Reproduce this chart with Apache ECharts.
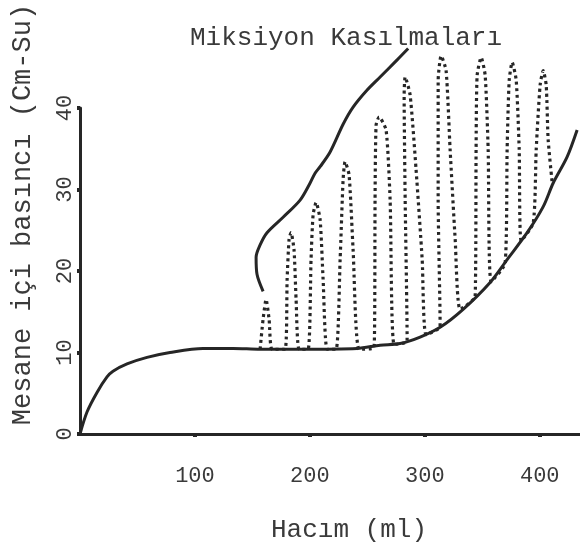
<!DOCTYPE html>
<html>
<head>
<meta charset="utf-8">
<script src="https://cdn.jsdelivr.net/npm/echarts@6/dist/echarts.min.js"></script>
<style>
html,body{margin:0;padding:0;background:#fff;}
#chart{width:580px;height:548px;}
</style>
</head>
<body>
<div id="chart"></div>
<script>
// Volume (ml) and pressure (cm H2O) values
const titleText = 'Miksiyon Kasılmaları';
const xName = 'Hacım (ml)';
const yName = 'Mesane içi basıncı (Cm-Su)';
const xTickLabels = [100, 200, 300, 400];
const yTickLabels = [0, 10, 20, 30, 40];

// filling (baseline) pressure curve
const fillingCurve = [
  [0,0],[6.1,2.7],[14.8,5.1],[23.5,7.0],[28.7,7.7],[40.9,8.6],[58.3,9.4],
  [78.3,10.0],[107,10.5],[133.2,10.5],[156.7,10.4],[191.5,10.4],[241.1,10.5],
  [261.1,10.9],[278.5,11.1],[295.9,11.9],[313.3,13.1],[333.3,15.3],[356.8,18.6],
  [371.6,21.4],[389,24.7],[403,27.9],[411.7,30.8],[423.8,34.0],[432.5,37.3]
];

// upper envelope of the contraction peaks
const envelopeCurve = [
  [159.3,17.5],[154.0,19.6],[153.2,21.7],[156.7,23.2],[162.7,24.7],[176.7,26.6],
  [191.5,28.7],[200.2,30.8],[204.5,32.0],[208.9,32.8],[217.6,34.6],[228.9,38.0],
  [237.6,40.1],[249.8,42.2],[261.1,43.8],[275.9,45.9],[285.5,47.3]
];

// dotted trace of the micturition contractions
const contractionTrace = [
  [156.7,10.4],[159.3,14.1],[161.9,16.5],[164.5,14.1],[167.1,10.4],
  [178.4,10.4],[180.2,19.0],[181.9,23.9],[183.6,24.7],[186.2,22.6],[188.0,16.5],[190.6,10.4],
  [198.4,10.4],[201.0,21.4],[202.8,26.9],[205.4,28.4],[208.9,26.3],[211.5,19.0],[215.0,10.4],
  [222.8,10.4],[226.3,21.4],[228.9,31.2],[230.6,33.4],[234.1,31.8],[237.6,22.6],[242.8,10.4],
  [255.9,10.6],[256.7,28.7],[257.6,37.9],[260.2,38.9],[266.3,37.3],[269.8,28.7],[273.3,11.0],
  [284.6,11.4],[282.9,28.7],[282.0,41.6],[282.9,43.8],[287.2,41.6],[292.4,32.4],[297.7,21.4],[301.1,12.2],
  [313.3,13.2],[311.6,28.7],[311.6,43.4],[314.2,46.4],[318.5,44.6],[322.0,34.9],[326.4,23.9],[330.7,15.3],
  [343.8,16.9],[344.6,34.9],[345.5,44.0],[349.0,46.2],[352.5,44.0],[355.1,34.9],[357.7,18.7],
  [369.9,21.0],[371.6,34.9],[373.4,43.4],[376.0,45.6],[379.5,43.4],[382.1,34.9],[383.8,23.7],
  [394.3,25.9],[396.9,34.9],[400.3,42.8],[403.0,44.6],[405.6,42.8],[407.3,36.1],[410.8,30.8]
];

const ink = '#262626';
const textInk = '#3a3a3a';
const font = '"Liberation Mono", "DejaVu Sans Mono", monospace';

const chart = echarts.init(document.getElementById('chart'));
chart.setOption({
  backgroundColor: '#ffffff',
  animation: false,
  title: {
    text: titleText,
    left: 185, top: 20,
    textStyle: { fontFamily: font, fontSize: 26, fontWeight: 'normal', color: textInk }
  },
  grid: { left: 80, right: 0, top: 108, bottom: 113, containLabel: false },
  xAxis: {
    type: 'value', min: 0, max: 435, interval: 100,
    name: xName, nameLocation: 'middle', nameGap: 83,
    nameTextStyle: { fontFamily: font, fontSize: 26, color: textInk, padding: [0,0,0,38] },
    axisLine: { show: true, onZero: false, lineStyle: { color: ink, width: 3 } },
    axisTick: { show: true, length: 3, lineStyle: { color: ink, width: 4 } },
    splitLine: { show: false },
    axisLabel: {
      margin: 31, fontFamily: font, fontSize: 22, color: textInk,
      showMinLabel: false, showMaxLabel: false,
      formatter: v => xTickLabels.includes(v) ? String(v) : ''
    }
  },
  yAxis: {
    type: 'value', min: 0, max: 40, interval: 10,
    name: yName, nameLocation: 'middle', nameGap: 44,
    nameTextStyle: { fontFamily: font, fontSize: 27, color: textInk, padding: [0,0,0,113] },
    axisLine: { show: true, onZero: false, lineStyle: { color: ink, width: 3 } },
    axisTick: { show: true, length: 3, lineStyle: { color: ink, width: 4 } },
    splitLine: { show: false },
    axisLabel: {
      rotate: 90, margin: 4, fontFamily: font, fontSize: 22, color: textInk,
      formatter: v => yTickLabels.includes(v) ? String(v) : ''
    }
  },
  series: [
    {
      type: 'line', data: fillingCurve, showSymbol: false, smooth: 0.3, clip: false,
      lineStyle: { color: ink, width: 3 }
    },
    {
      type: 'line', data: envelopeCurve, showSymbol: false, smooth: 0.3, clip: false,
      lineStyle: { color: ink, width: 3 }
    },
    {
      type: 'line', data: contractionTrace, showSymbol: false, smooth: 0.2, clip: false,
      lineStyle: { color: ink, width: 3.2, type: [3, 3.5] }
    }
  ]
});
</script>
</body>
</html>
